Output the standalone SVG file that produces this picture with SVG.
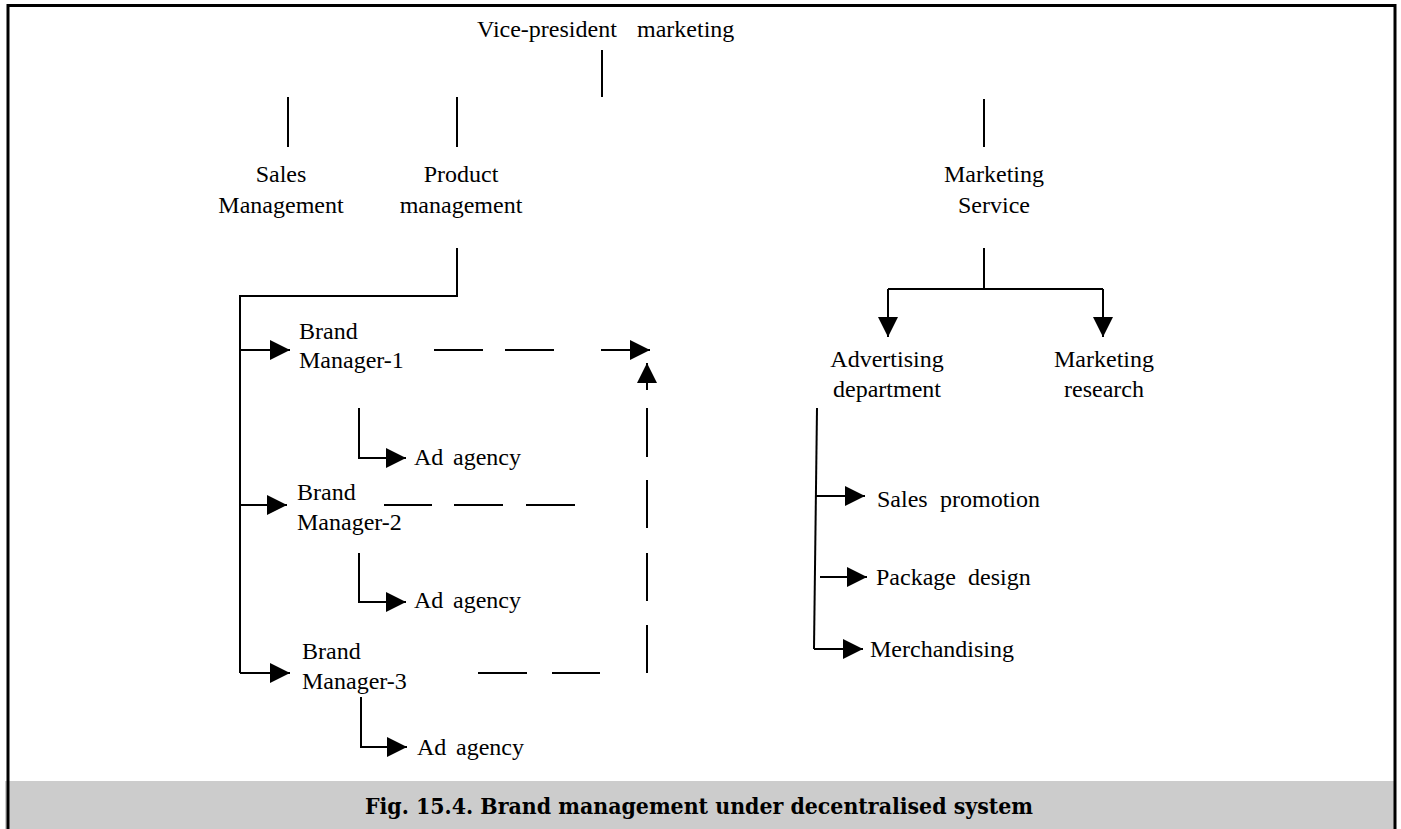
<svg xmlns="http://www.w3.org/2000/svg" width="1401" height="829" viewBox="0 0 1401 829">
  <style>
    .lbl { font-family: "Liberation Serif", "Times New Roman", serif; font-size: 24px; fill: #000; }
    .mid { text-anchor: middle; }
    .ln { fill: none; stroke: #000; stroke-width: 2; }
    .arr { marker-end: url(#head); }
    .cap { font-family: "DejaVu Serif", "Liberation Serif", serif; font-stretch: condensed; font-size: 23px; font-weight: bold; fill: #000; }
  </style>
  <defs>
    <marker id="head" markerUnits="userSpaceOnUse" markerWidth="20" markerHeight="20" viewBox="0 0 20 20" refX="20" refY="10" orient="auto">
      <path d="M0,0 L20,10 L0,20 Z" fill="#000"/>
    </marker>
  </defs>

  <!-- page frame and caption band -->
  <rect x="0" y="0" width="1401" height="829" fill="#fff"/>
  <rect x="5" y="781" width="1391" height="48" fill="#cccccc"/>
  <path d="M8,829 V5.5 H1395 V829" fill="none" stroke="#000" stroke-width="3"/>
  <text class="cap" x="365" y="814" textLength="668" lengthAdjust="spacingAndGlyphs">Fig. 15.4. Brand management under decentralised system</text>

  <!-- connectors -->
  <g id="connectors">
    <!-- top level stubs -->
    <line class="ln" x1="602" y1="50" x2="602" y2="97"/>
    <line class="ln" x1="288" y1="97" x2="288" y2="147"/>
    <line class="ln" x1="457" y1="97" x2="457" y2="147"/>
    <line class="ln" x1="984" y1="99" x2="984" y2="147"/>

    <!-- product management to brand managers -->
    <path class="ln" d="M457,248 V296 H240 V673"/>
    <line class="ln arr" x1="240" y1="350" x2="290" y2="350"/>
    <line class="ln arr" x1="240" y1="505" x2="287" y2="505"/>
    <line class="ln arr" x1="240" y1="673" x2="290" y2="673"/>

    <!-- brand managers to ad agencies -->
    <path class="ln arr" d="M359,408 V458 H406"/>
    <path class="ln arr" d="M359,553 V602 H406"/>
    <path class="ln arr" d="M361,697 V747 H407"/>

    <!-- dashed coordination lines -->
    <path class="ln" d="M434,350 H483 M505,350 H554"/>
    <line class="ln arr" x1="601" y1="350" x2="650" y2="350"/>
    <path class="ln" d="M384,505 H432 M454,505 H503 M526,505 H575"/>
    <path class="ln" d="M478,673 H527 M552,673 H600"/>
    <path class="ln" d="M647,673 V625 M647,601 V553 M647,528 V480 M647,457 V408"/>
    <line class="ln arr" x1="647" y1="390" x2="647" y2="363"/>

    <!-- marketing service branches -->
    <path class="ln" d="M984,248 V289 M888,289 H1103"/>
    <line class="ln arr" x1="888" y1="289" x2="888" y2="337"/>
    <line class="ln arr" x1="1103" y1="289" x2="1103" y2="337"/>

    <!-- advertising department branches -->
    <path class="ln" d="M817,408 L814,649"/>
    <line class="ln arr" x1="816" y1="496" x2="865" y2="496"/>
    <line class="ln arr" x1="820" y1="577" x2="867" y2="577"/>
    <line class="ln arr" x1="814" y1="649" x2="863" y2="649"/>
  </g>

  <!-- nodes -->
  <g id="vp-marketing">
    <text class="lbl" y="37"><tspan x="477">Vice-president</tspan><tspan x="637">marketing</tspan></text>
  </g>
  <g id="sales-management">
    <text class="lbl mid" x="281" y="182">Sales</text>
    <text class="lbl mid" x="281" y="213">Management</text>
  </g>
  <g id="product-management">
    <text class="lbl mid" x="461" y="182">Product</text>
    <text class="lbl mid" x="461" y="213">management</text>
  </g>
  <g id="marketing-service">
    <text class="lbl mid" x="994" y="182">Marketing</text>
    <text class="lbl mid" x="994" y="213">Service</text>
  </g>

  <g id="brand-manager-1">
    <text class="lbl" x="299" y="339">Brand</text>
    <text class="lbl" x="299" y="368">Manager-1</text>
  </g>
  <g id="brand-manager-2">
    <text class="lbl" x="297" y="500">Brand</text>
    <text class="lbl" x="297" y="530">Manager-2</text>
  </g>
  <g id="brand-manager-3">
    <text class="lbl" x="302" y="659">Brand</text>
    <text class="lbl" x="302" y="689">Manager-3</text>
  </g>
  <g id="ad-agency-1">
    <text class="lbl" y="465"><tspan x="414">Ad</tspan><tspan x="453">agency</tspan></text>
  </g>
  <g id="ad-agency-2">
    <text class="lbl" y="608"><tspan x="414">Ad</tspan><tspan x="453">agency</tspan></text>
  </g>
  <g id="ad-agency-3">
    <text class="lbl" y="755"><tspan x="417">Ad</tspan><tspan x="456">agency</tspan></text>
  </g>

  <g id="advertising-department">
    <text class="lbl mid" x="887" y="367">Advertising</text>
    <text class="lbl mid" x="887" y="397">department</text>
  </g>
  <g id="marketing-research">
    <text class="lbl mid" x="1104" y="367">Marketing</text>
    <text class="lbl mid" x="1104" y="397">research</text>
  </g>
  <g id="sales-promotion">
    <text class="lbl" y="507"><tspan x="877">Sales</tspan><tspan x="940">promotion</tspan></text>
  </g>
  <g id="package-design">
    <text class="lbl" y="585"><tspan x="876">Package</tspan><tspan x="968">design</tspan></text>
  </g>
  <g id="merchandising">
    <text class="lbl" x="870" y="657">Merchandising</text>
  </g>
</svg>
